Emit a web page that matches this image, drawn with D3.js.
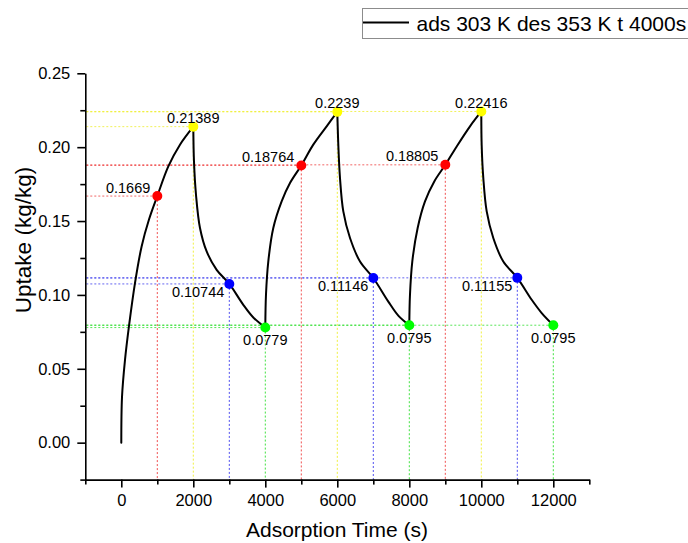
<!DOCTYPE html>
<html>
<head>
<meta charset="utf-8">
<script src="https://cdn.jsdelivr.net/npm/d3@7/dist/d3.min.js"></script>
<style>
  html, body { margin: 0; padding: 0; background: #fff; }
  svg { display: block; font-family: "Liberation Sans", Arial, sans-serif; }
</style>
</head>
<body>
<svg id="chart" width="688" height="543"></svg>
<script>
// Adsorption half-cycles (303 K): time (s) and uptake (kg/kg)
const adsTime = [
  [0, 20, 103, 214, 380, 566, 769, 1000, 1306, 1630, 2000],
  [4000, 4019, 4083, 4222, 4454, 4686, 5000, 5333, 5704, 6000],
  [8000, 8019, 8083, 8232, 8436, 8694, 9000, 9317, 9686, 10000]
];
const adsUptake = [
  [0, 0.031, 0.056, 0.079, 0.108, 0.133, 0.151, 0.1669, 0.187, 0.2017, 0.21389],
  [0.0779, 0.1001, 0.1226, 0.1453, 0.1633, 0.1757, 0.18764, 0.2017, 0.2141, 0.2239],
  [0.0795, 0.1001, 0.1226, 0.1453, 0.1633, 0.1768, 0.18805, 0.2005, 0.2141, 0.22416]
];

// Desorption half-cycles (353 K)
const desTime = [
  [2000, 2019, 2075, 2186, 2371, 2649, 3000, 3389, 3667, 4000],
  [6000, 6028, 6075, 6167, 6353, 6631, 7000, 7417, 7694, 8000],
  [10000, 10010, 10056, 10150, 10333, 10611, 11000, 11400, 11678, 12000]
];
const desUptake = [
  [0.21389, 0.1904, 0.1678, 0.1453, 0.1294, 0.117, 0.10744, 0.0933, 0.0847, 0.0779],
  [0.2239, 0.2017, 0.1791, 0.1565, 0.1385, 0.1226, 0.11146, 0.0955, 0.086, 0.0795],
  [0.22416, 0.2017, 0.1791, 0.1565, 0.1385, 0.1226, 0.11155, 0.0967, 0.0877, 0.0795]
];

// Highlighted points every 1000 s
const markTime = [1000, 2000, 3000, 4000, 5000, 6000, 7000, 8000, 9000, 10000, 11000, 12000];
const markUptake = [0.1669, 0.21389, 0.10744, 0.0779, 0.18764, 0.2239, 0.11146, 0.0795, 0.18805, 0.22416, 0.11155, 0.0795];
const markLabels = ["0.1669", "0.21389", "0.10744", "0.0779", "0.18764", "0.2239", "0.11146", "0.0795", "0.18805", "0.22416", "0.11155", "0.0795"];

const xTicks = [0, 2000, 4000, 6000, 8000, 10000, 12000];
const yTicks = [0.00, 0.05, 0.10, 0.15, 0.20, 0.25];
const legendText = "ads 303 K des 353 K t 4000s";
const xTitle = "Adsorption Time (s)";
const yTitle = "Uptake (kg/kg)";

const svg = d3.select("#chart");
const x = d3.scaleLinear().domain([-1000, 13000]).range([85.3, 589.3]);
const y = d3.scaleLinear().domain([-0.025, 0.25]).range([479.6, 73.3]);

// Colour per position within a cycle: mid-ads, end-ads, mid-des, end-des
const phaseColor = ["#ff0000", "#ffff00", "#0000ff", "#00ff00"];
const phaseLine = ["#ee3333", "#eeee22", "#3333ee", "#22dd22"];

const marks = markTime.map((t, i) => ({ t, u: markUptake[i], label: markLabels[i], phase: i % 4 }));

// Dotted guide lines from each marked point to both axes
const guides = svg.append("g");
marks.forEach(m => {
  guides.append("line")
    .attr("x1", x(-1000) + 1).attr("x2", x(m.t))
    .attr("y1", y(m.u)).attr("y2", y(m.u))
    .attr("stroke", phaseLine[m.phase]).attr("stroke-width", 1)
    .attr("stroke-dasharray", "2,2").attr("opacity", 0.75);
  guides.append("line")
    .attr("x1", x(m.t)).attr("x2", x(m.t))
    .attr("y1", y(m.u)).attr("y2", y(-0.025))
    .attr("stroke", phaseLine[m.phase]).attr("stroke-width", 1)
    .attr("stroke-dasharray", "2,2").attr("opacity", 0.85);
});

// Axes
const minorX = d3.range(-1000, 13001, 1000).filter(v => !xTicks.includes(v));
const minorY = [-0.025, 0.025, 0.075, 0.125, 0.175, 0.225];

svg.append("g").attr("transform", `translate(0,${y(-0.025)})`)
  .call(d3.axisBottom(x).tickValues(xTicks).tickFormat(d3.format("d")).tickSize(8).tickPadding(7).tickSizeOuter(0));
svg.append("g").attr("transform", `translate(0,${y(-0.025)})`)
  .call(d3.axisBottom(x).tickValues(minorX).tickFormat("").tickSize(5).tickSizeOuter(0))
  .call(g => g.select(".domain").remove());

svg.append("g").attr("transform", `translate(${x(-1000)},0)`)
  .call(d3.axisLeft(y).tickValues(yTicks).tickFormat(d3.format(".2f")).tickSize(8).tickPadding(7).tickSizeOuter(0));
svg.append("g").attr("transform", `translate(${x(-1000)},0)`)
  .call(d3.axisLeft(y).tickValues(minorY).tickFormat("").tickSize(5).tickSizeOuter(0))
  .call(g => g.select(".domain").remove());

svg.selectAll(".domain, .tick line").attr("stroke", "#000").attr("stroke-width", 1.6);
svg.selectAll(".tick text").attr("fill", "#000").attr("font-size", "16.5px")
  .attr("font-family", "Liberation Sans, Arial, sans-serif");

// Uptake curve
const line = d3.line().x(d => x(d[0])).y(d => y(d[1])).curve(d3.curveCatmullRom.alpha(0.5));
const curves = svg.append("g");
[[adsTime, adsUptake], [desTime, desUptake]].forEach(([ts, us]) => {
  ts.forEach((tArr, k) => {
    curves.append("path")
      .attr("d", line(tArr.map((t, j) => [t, us[k][j]])))
      .attr("fill", "none").attr("stroke", "#000").attr("stroke-width", 2)
      .attr("stroke-linecap", "round");
  });
});

// Markers
svg.append("g").selectAll("circle").data(marks).join("circle")
  .attr("cx", d => x(d.t)).attr("cy", d => y(d.u)).attr("r", 5)
  .attr("fill", d => phaseColor[d.phase]);

// Value labels
const labelPos = [
  { anchor: "end", dx: -7, dy: -3.5 },
  { anchor: "middle", dx: 0, dy: -3.5 },
  { anchor: "end", dx: -5, dy: 13.5 },
  { anchor: "middle", dx: 0, dy: 17.8 }
];
svg.append("g").selectAll("text").data(marks).join("text")
  .attr("x", d => x(d.t) + labelPos[d.phase].dx)
  .attr("y", d => y(d.u) + labelPos[d.phase].dy)
  .attr("text-anchor", d => labelPos[d.phase].anchor)
  .attr("font-size", "14.5px").attr("fill", "#000")
  .text(d => d.label);

// Axis titles
svg.append("text").attr("x", 337).attr("y", 537)
  .attr("text-anchor", "middle").attr("font-size", "21px").text(xTitle);
svg.append("text").attr("transform", "translate(31,240) rotate(-90)")
  .attr("text-anchor", "middle").attr("font-size", "22.5px").text(yTitle);

// Legend
const lg = svg.append("g");
lg.append("rect").attr("x", 362.5).attr("y", 8.5).attr("width", 340).attr("height", 30)
  .attr("fill", "#fff").attr("stroke", "#8c8c8c").attr("stroke-width", 1);
lg.append("line").attr("x1", 363).attr("x2", 409).attr("y1", 22.5).attr("y2", 22.5)
  .attr("stroke", "#000").attr("stroke-width", 2);
lg.append("text").attr("x", 416.5).attr("y", 31)
  .attr("font-size", "21px").attr("fill", "#000").text(legendText);
</script>
</body>
</html>
